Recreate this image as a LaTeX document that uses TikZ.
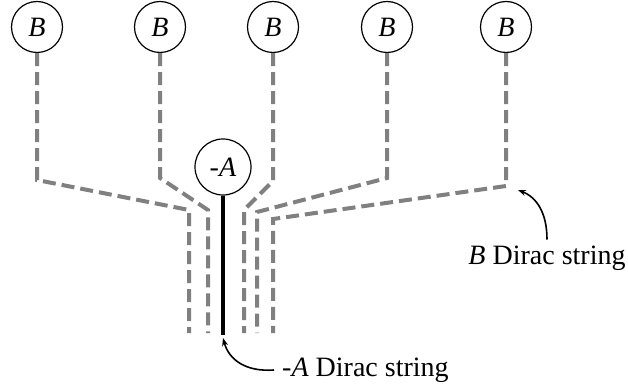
\documentclass[tikz,border=0pt]{standalone}
\usepackage{fontspec}
\setmainfont{Liberation Serif}
\usepackage{xcolor}
\usetikzlibrary{arrows.meta, positioning, calc}
\definecolor{stringgray}{HTML}{808080}

\begin{document}
\begin{tikzpicture}[
    x=1pt, y=-1pt,
    every node/.style={font=\fontsize{28}{32}\selectfont},
    charge/.style={
        circle,
        draw=black,
        line width=1.2pt,
        inner sep=2pt,
        minimum size=51pt
    },
    bstring/.style={
        draw=stringgray,
        line width=4pt,
        dash pattern=on 13pt off 6pt
    },
    astring/.style={
        draw=black,
        line width=3.5pt
    },
    pointer/.style={
        -{Stealth[length=8pt, width=6pt]},
        line width=1.6pt
    },
    caption/.style={
        inner sep=0pt
    }
]
\useasboundingbox (0,0) rectangle (628,390);

% Charges
\node[charge] (b1) at (37,27) {\textit{B}};
\node[charge] (b2) at (160,27) {\textit{B}};
\node[charge] (b3) at (273,27) {\textit{B}};
\node[charge] (b4) at (387,27) {\textit{B}};
\node[charge] (b5) at (506,27) {\textit{B}};
\node[charge, minimum size=56pt] (a) at (223,167) {-\textit{A}};

% String ends
\coordinate (e1) at (189,333);
\coordinate (e2) at (208,333);
\coordinate (e3) at (244,333);
\coordinate (e4) at (257,333);
\coordinate (e5) at (273,333);
\coordinate (ea) at (223,335);

% B Dirac strings
\draw[bstring] (b1.south) -- (37,180) -- (189,210) -- (e1);
\draw[bstring] (b2.south) -- (160,178) -- (208,210) -- (e2);
\draw[bstring] (b3.south) -- (273,181) -- (244,210) -- (e3);
\draw[bstring] (b4.south) -- (387,178) -- (257,212) -- (e4);
\draw[bstring] (b5.south) -- (506,186) -- (273,219) -- (e5);

% -A Dirac string
\draw[astring] (a.south) -- (ea);

% Labels
\node[caption] (blabel) at (547,258) {\textit{B} Dirac string};
\node[caption, anchor=west] (alabel) at (282,370) {-\textit{A} Dirac string};

\draw[pointer] ([yshift=6pt]blabel.north) .. controls (547,212) and (536,197) .. (518,190);
\draw[pointer] ([xshift=-8pt]alabel.west) .. controls (246,372) and (229,360) .. ([yshift=-3pt]ea);

\end{tikzpicture}
\end{document}
